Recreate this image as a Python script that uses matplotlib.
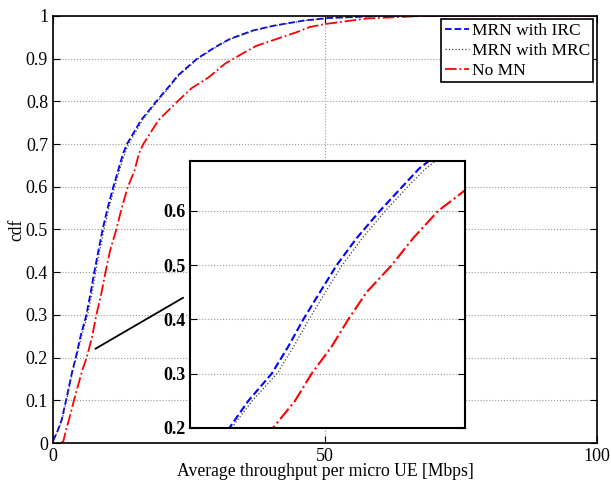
import numpy as np
import matplotlib
matplotlib.use("Agg")
import matplotlib.pyplot as plt

plt.rcParams['font.family'] = 'serif'
plt.rcParams['font.serif'] = ['Liberation Serif', 'DejaVu Serif']

# cdf levels and throughput (Mbps)
cdf_mrn = [0.005, 0.027, 0.054, 0.1, 0.171, 0.2, 0.25, 0.3, 0.35, 0.4, 0.45,
           0.5, 0.55, 0.6, 0.65, 0.678, 0.7, 0.756, 0.8, 0.842, 0.86, 0.9,
           0.927, 0.946, 0.966, 0.977, 0.989, 0.995, 1.0, 1.0]
thr_irc = [0.0, 0.8, 1.6, 2.4, 3.6, 4.2, 5.07, 6.14, 6.9, 7.59, 8.35,
           9.12, 10.04, 11.1, 12.25, 12.9, 13.6, 16.2, 19.0, 21.8, 22.9, 26.5,
           29.8, 32.5, 36.8, 40.5, 46.0, 50.5, 60.0, 100.0]
thr_mrc = [0.0, 0.85, 1.7, 2.5, 3.7, 4.3, 5.25, 6.38, 7.15, 7.85, 8.6,
           9.37, 10.3, 11.35, 12.5, 13.2, 13.9, 16.45, 19.2, 22.0, 23.1, 26.7,
           30.0, 32.7, 37.0, 40.7, 46.3, 50.8, 61.0, 100.0]

cdf_nomn = [0.0, 0.004, 0.03, 0.062, 0.1, 0.171, 0.2, 0.25, 0.3, 0.35, 0.4,
            0.45, 0.5, 0.55, 0.6, 0.638, 0.678, 0.7, 0.756, 0.8, 0.831, 0.856,
            0.888, 0.911, 0.93, 0.946, 0.962, 0.974, 0.981, 0.994, 1.0, 1.0]
thr_nomn = [1.5, 1.9, 2.4, 3.1, 3.86, 5.4, 6.2, 7.21, 7.97, 8.89, 9.65,
            10.49, 11.64, 12.63, 13.77, 15.0, 15.8, 16.6, 19.4, 22.9, 25.5, 28.6,
            31.6, 34.7, 37.4, 41.1, 44.8, 47.2, 50.0, 57.7, 68.0, 100.0]

labels = ['MRN with IRC', 'MRN with MRC', 'No MN']

fig = plt.figure(figsize=(6.11, 4.83), dpi=100)
ax = fig.add_axes([0.0867, 0.0828, 0.8903, 0.8842])

def draw(a, lw=1.3):
    a.plot(thr_irc, cdf_mrn, '--', color='blue', lw=lw, label=labels[0])
    a.plot(thr_mrc, cdf_mrn, ':', color='0.25', lw=0.9, label=labels[1])
    a.plot(thr_nomn, cdf_nomn, '-.', color='red', lw=lw, label=labels[2])

draw(ax)
ax.set_xlim(0, 100)
ax.set_ylim(0, 1)
ax.set_xticks([0, 50, 100])
ax.set_yticks(np.arange(0, 1.01, 0.1))
ax.set_yticklabels(['0', '0.1', '0.2', '0.3', '0.4', '0.5', '0.6', '0.7', '0.8', '0.9', '1'])
ax.grid(True, linestyle=':', color='0.6', lw=0.8)
ax.tick_params(direction='in', top=True, right=True, labelsize=13, length=5)
for s in ax.spines.values():
    s.set_linewidth(1.2)
ax.set_xlabel('Average throughput per micro UE [Mbps]', fontsize=12.7, labelpad=-1)
ax.set_ylabel('cdf', fontsize=12.7, labelpad=0)

leg = ax.legend(loc='upper right', fontsize=12.5, fancybox=False, framealpha=1,
                edgecolor='black', borderaxespad=0.2, handlelength=1.4,
                handletextpad=0.15, borderpad=0.2, labelspacing=0.22)
leg.get_frame().set_linewidth(1.2)

# pointer line to the zoomed area
ax.plot([7.85, 23.9], [0.221, 0.340], '-', color='black', lw=1.3)

ins = fig.add_axes([0.311, 0.1139, 0.450, 0.5528])
draw(ins, lw=1.5)
ins.set_xlim(2.4, 15)
ins.set_ylim(0.2, 0.692)
ins.set_xticks([])
ins.set_yticks([0.2, 0.3, 0.4, 0.5, 0.6])
ins.yaxis.grid(True, linestyle=':', color='0.6', lw=0.8)
ins.tick_params(direction='in', right=True, labelsize=13, length=5)
for t in ins.get_yticklabels():
    t.set_fontweight('bold')
for s in ins.spines.values():
    s.set_linewidth(1.5)

fig.savefig('out.png', dpi=100)
